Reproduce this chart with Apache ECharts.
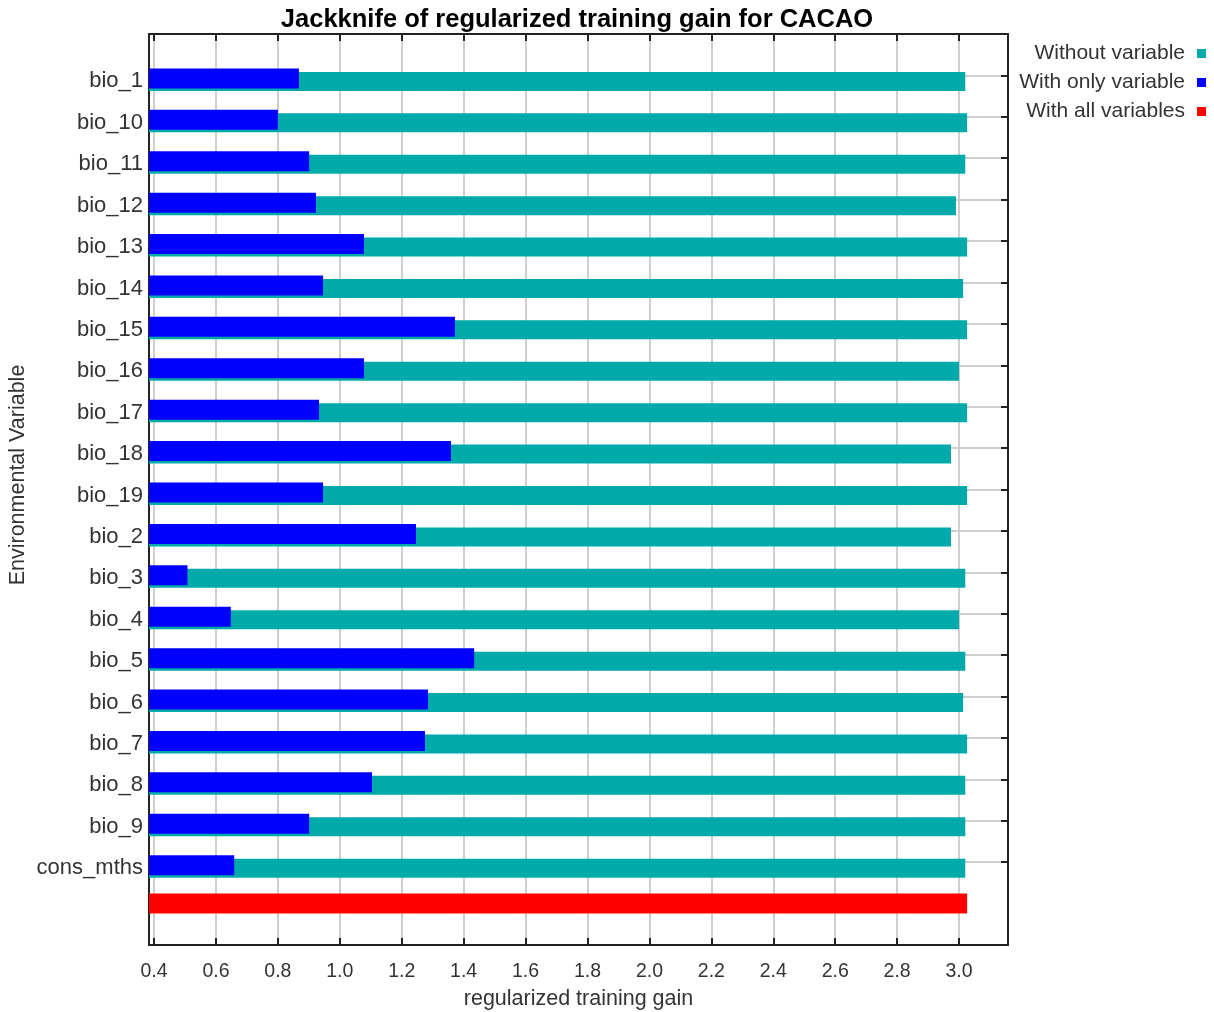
<!DOCTYPE html>
<html>
<head>
<meta charset="utf-8">
<title>Jackknife of regularized training gain for CACAO</title>
<script src="https://cdn.jsdelivr.net/npm/echarts@6/dist/echarts.min.js"></script>
<style>
    html, body { margin: 0; padding: 0; background: #fff; }
    #chart { width: 1214px; height: 1012px; }
</style>
</head>
<body>
<div id="chart"></div>
<script>
'use strict';

// values
var variables = ['bio_1', 'bio_10', 'bio_11', 'bio_12', 'bio_13', 'bio_14', 'bio_15', 'bio_16', 'bio_17', 'bio_18',
    'bio_19', 'bio_2', 'bio_3', 'bio_4', 'bio_5', 'bio_6', 'bio_7', 'bio_8', 'bio_9', 'cons_mths'];
var withoutVariable = [3.020, 3.026, 3.020, 2.990, 3.026, 3.013, 3.026, 3.000, 3.026, 2.974,
    3.026, 2.974, 3.020, 3.000, 3.020, 3.013, 3.026, 3.020, 3.020, 3.020];
var withOnlyVariable = [0.868, 0.800, 0.901, 0.923, 1.078, 0.946, 1.372, 1.078, 0.933, 1.359,
    0.946, 1.246, 0.508, 0.648, 1.434, 1.285, 1.275, 1.104, 0.901, 0.659];
var withAllVariables = 3.026;

var xMin = 0.3838, xMax = 3.158;

(function() {
    var chart = echarts.init(document.getElementById('chart'));
    var font = 'Liberation Sans, Arial, sans-serif';

    // one empty slot above, the red bar slot and an empty slot below
    var cats = [''].concat(variables, ['', '']);
    var pad = function(arr) {
        return [null].concat(arr, [null, null]);
    };
    var allData = cats.map(function(c, i) {
        return i === 21 ? withAllVariables : null;
    });
    var isVar = function(i) {
        return i >= 1 && i <= 20;
    };

    // frame grid, then the blue and teal bars a few px lower like the original
    var grids = [34, 37, 40].map(function(t) {
        return {left: 149, width: 859, top: t, height: 911, containLabel: false, outerBoundsMode: 'none'};
    });

    var hiddenX = function(g) {
        return {type: 'value', gridIndex: g, min: xMin, max: xMax, show: false};
    };
    var hiddenY = function(g) {
        return {type: 'category', gridIndex: g, data: cats, inverse: true, boundaryGap: false, show: false};
    };

    var option = {
        backgroundColor: '#fff',
        animation: false,
        title: {
            text: 'Jackknife of regularized training gain for CACAO',
            left: 572,
            textAlign: 'center',
            top: 2,
            textStyle: {fontFamily: font, fontSize: 25.5, fontWeight: 'bold', color: '#000'}
        },
        legend: {
            orient: 'vertical',
            right: 8,
            top: 43,
            padding: 0,
            align: 'right',
            itemWidth: 9,
            itemHeight: 9,
            itemGap: 8,
            icon: 'rect',
            data: ['Without variable', 'With only variable', 'With all variables'],
            textStyle: {fontFamily: font, fontSize: 21, color: '#333', lineHeight: 20, padding: [0, 7, 0, 0]}
        },
        grid: grids,
        xAxis: [
            {
                type: 'value', gridIndex: 0, min: xMin, max: xMax,
                splitNumber: 14, minInterval: 0.2, maxInterval: 0.2,
                name: 'regularized training gain',
                nameLocation: 'middle',
                nameGap: 43,
                nameTextStyle: {fontFamily: font, fontSize: 21.5, color: '#333'},
                axisLine: {show: true, lineStyle: {color: '#222', width: 2}},
                axisTick: {show: true, inside: true, length: 7, lineStyle: {color: '#222', width: 2}},
                axisLabel: {
                    showMinLabel: false, showMaxLabel: false, margin: 17,
                    fontFamily: font, fontSize: 19.5, color: '#333',
                    formatter: function(v) { return v.toFixed(1); }
                },
                splitLine: {show: true, lineStyle: {color: '#cfcfcf', width: 2}}
            },
            {
                type: 'value', gridIndex: 0, min: xMin, max: xMax, position: 'top',
                splitNumber: 14, minInterval: 0.2, maxInterval: 0.2,
                axisLine: {show: true, lineStyle: {color: '#222', width: 2}},
                axisTick: {show: true, inside: true, length: 7, lineStyle: {color: '#222', width: 2}},
                axisLabel: {show: false},
                splitLine: {show: false}
            },
            hiddenX(1),
            hiddenX(2)
        ],
        yAxis: [
            {
                type: 'category', gridIndex: 0, data: cats, inverse: true, boundaryGap: false,
                axisLine: {show: true, onZero: false, lineStyle: {color: '#222', width: 2}},
                axisTick: {show: false},
                axisLabel: {show: false},
                splitLine: {show: true, interval: isVar, lineStyle: {color: '#cfcfcf', width: 2}}
            },
            {
                type: 'category', gridIndex: 0, data: cats, inverse: true, boundaryGap: false, position: 'right',
                axisLine: {show: true, onZero: false, lineStyle: {color: '#222', width: 2}},
                axisTick: {show: true, inside: true, length: 7, interval: isVar, lineStyle: {color: '#222', width: 2}},
                axisLabel: {show: false},
                splitLine: {show: false}
            },
            hiddenY(1),
            {
                type: 'category', gridIndex: 2, data: cats, inverse: true, boundaryGap: false,
                name: 'Environmental Variable',
                nameLocation: 'middle',
                nameGap: 120,
                nameMoveOverlap: false,
                nameTextStyle: {fontFamily: font, fontSize: 21.5, color: '#333', padding: [0, 0, 0, 41]},
                axisLine: {show: false},
                axisTick: {show: false},
                axisLabel: {margin: 6, fontFamily: font, fontSize: 22, color: '#333', interval: 0},
                splitLine: {show: false}
            }
        ],
        series: [
            {
                name: 'Without variable', type: 'bar', xAxisIndex: 3, yAxisIndex: 3,
                barWidth: 19, data: pad(withoutVariable),
                itemStyle: {color: '#00aaaa'}
            },
            {
                name: 'With only variable', type: 'bar', xAxisIndex: 2, yAxisIndex: 2,
                barWidth: 20, data: pad(withOnlyVariable),
                itemStyle: {color: '#0000ff'}
            },
            {
                name: 'With all variables', type: 'bar', xAxisIndex: 0, yAxisIndex: 0,
                barWidth: 20, data: allData,
                itemStyle: {color: '#ff0000'}
            }
        ]
    };

    chart.setOption(option);
})();
</script>
</body>
</html>
